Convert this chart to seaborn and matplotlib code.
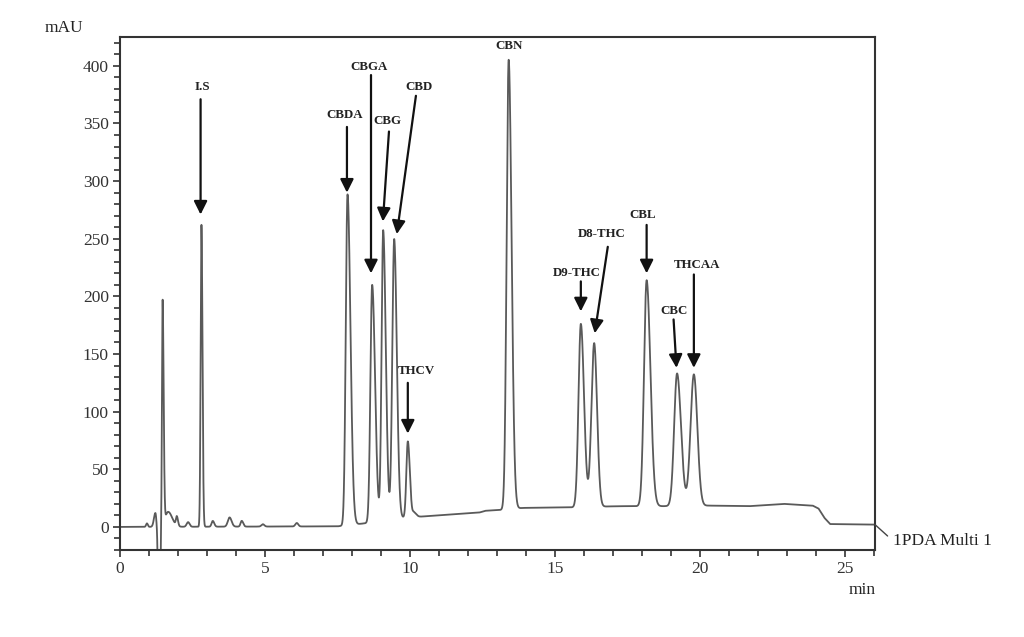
import numpy as np
import pandas as pd
import matplotlib
matplotlib.use("Agg")
import matplotlib.pyplot as plt
import seaborn as sns
from matplotlib.ticker import MultipleLocator, FixedLocator

# ---------------- data ----------------
# labelled compound peaks: retention time (min), height above baseline (mAU),
# left / right half-widths (sigma, min)
peak_names = ["I.S", "CBDA", "CBGA", "CBG", "CBD", "THCV", "CBN",
              "D9-THC", "D8-THC", "CBL", "CBC", "THCAA"]
peak_rt = [2.81, 7.85, 8.70, 9.08, 9.46, 9.93, 13.41,
           15.90, 16.36, 18.17, 19.22, 19.80]
peak_height = [262, 287, 206, 252, 243, 66, 390,
               159, 142, 196, 115, 114]
peak_sigma_l = [0.028, 0.06, 0.06, 0.055, 0.065, 0.05, 0.07,
                0.08, 0.095, 0.09, 0.10, 0.115]
peak_sigma_r = [0.035, 0.10, 0.10, 0.09, 0.09, 0.07, 0.10,
                0.11, 0.10, 0.13, 0.135, 0.12]

# unlabelled small peaks, solvent front and its negative dip
minor_rt = [0.93, 1.22, 1.35, 1.47, 1.66, 1.96, 2.35, 3.20, 3.78, 4.20, 4.93, 6.10, 10.14]
minor_height = [3, 12, -150, 195, 13, 8, 4, 5, 8, 5, 2, 3, 4]
minor_sigma_l = [0.03, 0.05, 0.03, 0.022, 0.10, 0.03, 0.05, 0.04, 0.06, 0.04, 0.05, 0.05, 0.04]
minor_sigma_r = [0.03, 0.03, 0.03, 0.035, 0.14, 0.04, 0.05, 0.05, 0.07, 0.05, 0.05, 0.05, 0.08]

# baseline drift
base_t = [0.0, 7.5, 8.4, 9.0, 9.8, 10.4, 12.4, 12.6, 13.3, 13.9, 15.6, 17.2, 18.7,
          20.3, 21.7, 22.9, 23.9, 24.1, 24.3, 24.5, 26.1]
base_v = [0.0, 0.5, 3.0, 5.0, 8.0, 9.0, 12.5, 14.0, 15.0, 16.5, 17.0, 18.0, 18.0,
          18.5, 18.0, 20.0, 18.5, 16.0, 8.0, 2.5, 2.0]

# annotation labels / arrows
ann_text = ["I.S", "CBDA", "CBGA", "CBG", "CBD", "THCV", "CBN",
            "D9-THC", "D8-THC", "CBL", "CBC", "THCAA"]
ann_x = [2.83, 7.76, 8.59, 9.24, 10.31, 10.24, 13.41, 15.76, 16.62, 18.03, 19.10, 19.90]
ann_y = [382, 357, 399, 352, 382, 135, 417, 220, 254, 271, 187, 227]
arrow_start_x = [2.78, 7.83, 8.66, 9.28, 10.21, 9.93, None, 15.90, 16.83, 18.17, 19.10, 19.80]
arrow_start_y = [371, 347, 392, 343, 374, 125, None, 213, 243, 262, 180, 219]
arrow_tip_x = [2.78, 7.83, 8.66, 9.07, 9.55, 9.93, None, 15.90, 16.38, 18.17, 19.20, 19.80]
arrow_tip_y = [271, 290, 220, 265, 254, 81, None, 187, 168, 220, 138, 138]

# ---------------- build trace ----------------
t = np.linspace(0, 26.05, 12001)


def bigauss(x, rt, h, sl, sr):
    s = np.where(x < rt, sl, sr)
    return h * np.exp(-0.5 * ((x - rt) / s) ** 2)


signal = np.interp(t, base_t, base_v)
for rt, h, sl, sr in zip(peak_rt, peak_height, peak_sigma_l, peak_sigma_r):
    signal = signal + bigauss(t, rt, h, sl, sr)
for rt, h, sl, sr in zip(minor_rt, minor_height, minor_sigma_l, minor_sigma_r):
    signal = signal + bigauss(t, rt, h, sl, sr)

df = pd.DataFrame({"min": t, "mAU": signal})

# ---------------- plot ----------------
sns.set_theme(style="ticks")
plt.rcParams["font.family"] = ["Liberation Serif", "DejaVu Serif"]

fig = plt.figure(figsize=(10.24, 6.37), dpi=100)
ax = fig.add_axes([0.1172, 0.1366, 0.7373, 0.8053])

sns.lineplot(data=df, x="min", y="mAU", ax=ax, color="#5a5a5a", lw=1.3, sort=False)

ax.set_xlim(0, 26.05)
ax.set_ylim(-20, 425)
ax.set_xlabel("")
ax.set_ylabel("")
ax.xaxis.set_major_locator(MultipleLocator(5))
ax.xaxis.set_minor_locator(MultipleLocator(1))
ax.yaxis.set_major_locator(FixedLocator(list(range(0, 401, 50))))
ax.yaxis.set_minor_locator(MultipleLocator(10))
ax.tick_params(which="both", direction="out", color="#333333", width=1.2,
               labelsize=12.5, labelcolor="#333333")
ax.tick_params(which="major", length=5, pad=3)
ax.tick_params(which="minor", length=4)
for sp in ax.spines.values():
    sp.set_visible(True)
    sp.set_color("#333333")
    sp.set_linewidth(1.5)

for i, name in enumerate(ann_text):
    ax.text(ann_x[i], ann_y[i], name, ha="center", va="center", fontsize=9.3,
            fontweight="bold", color="#222222")
    if arrow_tip_x[i] is not None:
        ax.annotate("", xy=(arrow_tip_x[i], arrow_tip_y[i]),
                    xytext=(arrow_start_x[i], arrow_start_y[i]),
                    arrowprops=dict(arrowstyle="-|>", color="#111111", lw=1.6,
                                    mutation_scale=20, shrinkA=0, shrinkB=0))

fig.text(0.0625, 0.956, "mAU", ha="center", va="center", fontsize=12.5, color="#222222")
fig.text(0.842, 0.074, "min", ha="center", va="center", fontsize=12.5, color="#222222")
ax.annotate("1PDA Multi 1", xy=(26.05, signal[-1]), xycoords="data",
            xytext=(0.872, 0.151), textcoords="figure fraction",
            ha="left", va="center", fontsize=12.5, color="#222222",
            annotation_clip=False,
            arrowprops=dict(arrowstyle="-", color="#444444", lw=1.0,
                            shrinkA=2, shrinkB=0, relpos=(0, 0.5)))

fig.savefig("out.png", dpi=100, facecolor="white")
